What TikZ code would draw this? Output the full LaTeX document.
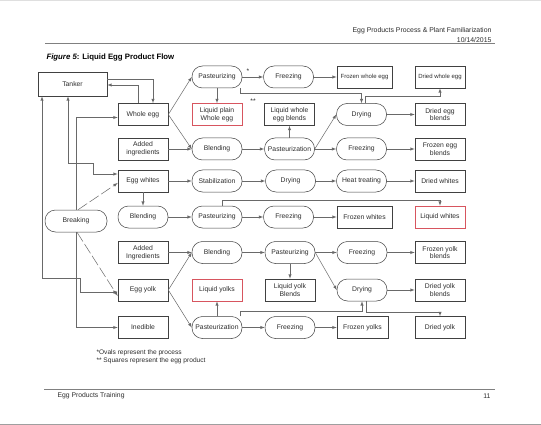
\documentclass[tikz,border=0pt]{standalone}
\usepackage{fontspec}
\setmainfont{Liberation Sans}
\usetikzlibrary{calc,shapes,arrows}

\definecolor{linegray}{RGB}{105,105,105}
\definecolor{boxgray}{RGB}{65,65,65}
\definecolor{txtgray}{RGB}{45,45,45}
\definecolor{prodred}{RGB}{215,85,95}

\begin{document}
\begin{tikzpicture}[x=1pt,y=-1pt,
    every node/.style={font=\fontsize{6.8}{7.6}\selectfont,text=txtgray},
    product/.style={draw=boxgray,line width=0.6pt,minimum width=50pt,minimum height=22pt,inner sep=1pt,align=center},
    redproduct/.style={product,draw=prodred},
    process/.style={draw=boxgray,line width=0.5pt,rounded corners=10.5pt,minimum width=50pt,minimum height=22pt,inner sep=1pt,align=center},
    flow/.style={draw=linegray,line width=0.5pt,-latex},
    twoway/.style={flow,latex-latex},
    breakflow/.style={flow,dash pattern=on 11pt off 3pt}]
        \fill[white] (0,0) rectangle (541,425);
        \useasboundingbox (0,0) rectangle (541,425);
        \draw[gray!25,line width=1pt] (0,0.5) -- (541,0.5);
        \draw[gray!75,line width=1.2pt] (0,424.4) -- (541,424.4);

        \node[anchor=east,align=right,font=\fontsize{6.9}{9.6}\selectfont] (header) at (495,35) {Egg Products Process \& Plant Familiarization\\10/14/2015};
        \draw[gray,line width=0.7pt] (45,43.5) -- (495,43.5);
        \node[anchor=west,font=\fontsize{7.8}{9}\selectfont\bfseries,text=black] (title) at (43,58) {\textit{Figure 5}: Liquid Egg Product Flow};

        \node[product,minimum width=69pt,minimum height=24pt] (tanker) at (72.5,84) {Tanker};
        \node[process,minimum width=62pt] (breaking) at (76,221) {Breaking};

        \node[product] (wholeegg) at (143,114.5) {Whole egg};
        \node[product] (added1) at (143,149) {Added\\ingredients};
        \node[product] (eggwhites) at (143,181) {Egg whites};
        \node[process] (blend2) at (143,217) {Blending};
        \node[product] (added2) at (143,252.5) {Added\\Ingredients};
        \node[product] (eggyolk) at (143,290) {Egg yolk};
        \node[product] (inedible) at (143,327.5) {Inedible};

        \node[process] (past1) at (217,77) {Pasteurizing};
        \node[redproduct] (liqplain) at (217,114.5) {Liquid plain\\Whole egg};
        \node[process] (blend1) at (217,149) {Blending};
        \node[process] (stab) at (217,181) {Stabilization};
        \node[process] (past2) at (217,217) {Pasteurizing};
        \node[process] (blend3) at (217,252.5) {Blending};
        \node[redproduct] (liqyolks) at (217,290) {Liquid yolks};
        \node[process] (pastn2) at (217,327.5) {Pasteurization};

        \node[process] (freeze1) at (288.5,77) {Freezing};
        \node[product] (liqblends) at (289.5,114.5) {Liquid whole\\egg blends};
        \node[process] (pastn1) at (289.5,149) {Pasteurization};
        \node[process] (dry2) at (290.5,181) {Drying};
        \node[process] (freeze3) at (288.5,217) {Freezing};
        \node[process] (past3) at (290,252.5) {Pasteurizing};
        \node[product] (yolkblends) at (290,290) {Liquid yolk\\Blends};
        \node[process] (freeze5) at (290,327.5) {Freezing};

        \node[product,minimum width=55pt,font=\fontsize{6}{7}\selectfont] (frozenwhole) at (364.5,77) {Frozen whole egg};
        \node[process] (dry1) at (361.5,114.5) {Drying};
        \node[process] (freeze2) at (361.5,149) {Freezing};
        \node[process] (heat) at (361.5,181) {Heat treating};
        \node[product,minimum width=55pt] (frozenwhites) at (364.5,217) {Frozen whites};
        \node[process] (freeze4) at (362,252.5) {Freezing};
        \node[process] (dry3) at (362,290) {Drying};
        \node[product,minimum width=51pt] (frozenyolks) at (362.5,327.5) {Frozen yolks};

        \node[product,font=\fontsize{6}{7}\selectfont] (driedwhole) at (440,77) {Dried whole egg};
        \node[product] (driedblends) at (440,114.5) {Dried egg\\blends};
        \node[product] (frozenblends) at (440,149) {Frozen egg\\blends};
        \node[product] (driedwhites) at (440,181) {Dried whites};
        \node[redproduct] (liqwhites) at (440,217) {Liquid whites};
        \node[product] (frozenyolkbl) at (440,252.5) {Frozen yolk\\blends};
        \node[product] (driedyolkbl) at (440,290) {Dried yolk\\blends};
        \node[product] (driedyolk) at (440,327.5) {Dried yolk};

        \node (star1) at (248,71) {*};
        \node (star2) at (253,101) {**};

        \foreach \a/\b in {past1/freeze1,freeze1/frozenwhole,added1/blend1,blend1/pastn1,pastn1/freeze2,
            freeze2/frozenblends,dry1/driedblends,eggwhites/stab,stab/dry2,dry2/heat,heat/driedwhites,
            blend2/past2,past2/freeze3,freeze3/frozenwhites,added2/blend3,blend3/past3,past3/freeze4,
            freeze4/frozenyolkbl,dry3/driedyolkbl,pastn2/freeze5,freeze5/frozenyolks,
            past1/liqplain,pastn1/liqblends,eggwhites/blend2,past3/yolkblends,pastn2/liqyolks}
        \draw[flow] (\a) -- (\b);
        \foreach \a/\b in {wholeegg.east/past1.west,wholeegg.east/blend1.west,pastn1.east/dry1.west,
            eggyolk.east/blend3.west,eggyolk.east/pastn2.west,past3.east/dry3.west}
        \draw[flow] (\a) -- (\b);

        \draw[flow] ([yshift=5pt]tanker.east) -| ([xshift=10pt]wholeegg.north);
        \draw[flow] ([xshift=-5pt]wholeegg.north) |- ([yshift=-1pt]tanker.east);
        \draw[flow] (breaking.north) |- ([yshift=-3pt]wholeegg.west);
        \draw[flow] (breaking.south) |- (inedible.west);
        \draw[breakflow] ([xshift=2pt]breaking.north) -- ([yshift=-2pt]eggwhites.west);
        \draw[breakflow] ([xshift=1pt]breaking.south) -- ([yshift=-6pt]eggyolk.west);
        \draw[twoway] ([yshift=7pt]eggwhites.west) -- ++(-24,0) -- ++(0,-11) -| ([xshift=-4.5pt]tanker.south);
        \draw[twoway] ([yshift=-2pt]eggyolk.west) -- ++(-37,0) -- ++(0,-14) -| ([xshift=-30.5pt]tanker.south);

        \draw[flow] ([xshift=-2pt]past1.south east) |- ([yshift=10pt]dry1.north) -- (dry1.north);
        \draw[flow] ([xshift=4pt]dry1.north) -- ++(0,-7) -| (driedwhole.south);
        \draw[flow] ([xshift=5pt]past2.north) -- ++(0,-6) -| (liqwhites.north);
        \draw[flow] ([xshift=-2pt]pastn2.north east) |- ([yshift=-10pt]dry3.south) -- (dry3.south);
        \draw[flow] ([xshift=4pt]dry3.south) -- ++(0,11) -| (driedyolk.north);

        \node[anchor=west,align=left,font=\fontsize{6.6}{8}\selectfont] (notes) at (93,357) {*Ovals represent the process\\** Squares represent the egg product};
        \draw[gray,line width=0.7pt] (44,389) -- (495,389);
        \node[anchor=west] (footer) at (54,396) {Egg Products Training};
        \node[anchor=east] (pageno) at (494,396) {11};
    \end{tikzpicture}
\end{document}
